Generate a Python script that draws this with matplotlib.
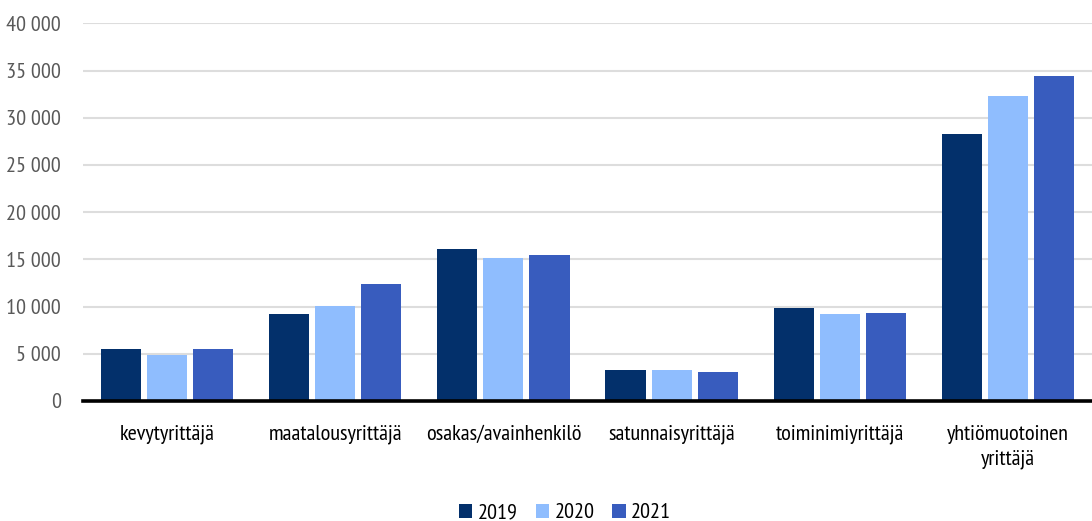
import matplotlib
matplotlib.use("Agg")
import matplotlib.pyplot as plt
import numpy as np
from matplotlib.ticker import FuncFormatter

categories = ["kevytyrittäjä", "maatalousyrittäjä", "osakas/avainhenkilö",
              "satunnaisyrittäjä", "toiminimiyrittäjä", "yhtiömuotoinen\nyrittäjä"]
years = ["2019", "2020", "2021"]
v2019 = [5500, 9200, 16100, 3300, 9900, 28300]
v2020 = [4900, 10100, 15100, 3300, 9200, 32300]
v2021 = [5500, 12400, 15500, 3100, 9300, 34400]
colors = ["#03306B", "#8FBDFE", "#385CBE"]

plt.rcParams['font.family'] = ['PT Sans Narrow', 'DejaVu Sans']

W, H = 1092, 521
fig = plt.figure(figsize=(W/100, H/100), dpi=100)
ax = fig.add_axes([83/W, (H-401)/H, (W-83)/W, (401-23.3)/H])

x = np.arange(len(categories))
step = 0.274
width = 0.238
for i, (vals, c, lab) in enumerate(zip([v2019, v2020, v2021], colors, years)):
    ax.bar(x + (i-1)*step, vals, width, color=c, label=lab, zorder=3)

ax.set_xlim(-0.5, len(categories)-0.5)
ax.set_ylim(0, 40000)
ax.set_yticks(np.arange(0, 40001, 5000))
ax.yaxis.set_major_formatter(FuncFormatter(lambda v, p: f"{int(v):,}".replace(",", " ")))
ax.grid(axis='y', color='#DDDDDD', linewidth=1.5, zorder=0)
for s in ['top', 'right', 'left']:
    ax.spines[s].set_visible(False)
ax.spines['bottom'].set_color('black')
ax.spines['bottom'].set_linewidth(2.6)
ax.spines['bottom'].set_zorder(4)
ax.tick_params(axis='y', length=0, pad=16, labelsize=16, labelcolor='#595959')
ax.tick_params(axis='x', length=0, pad=17, labelsize=16, labelcolor='black')
ax.set_xticks(x)
ax.set_xticklabels(categories, linespacing=1.4, va='top')

fig.legend(loc='center', bbox_to_anchor=(565/W, 1-513/H), ncol=3, frameon=False,
           fontsize=16, handlelength=0.6, handleheight=0.6, handletextpad=0.25,
           columnspacing=0.8)

fig.savefig("out.png", dpi=100, facecolor='white')
